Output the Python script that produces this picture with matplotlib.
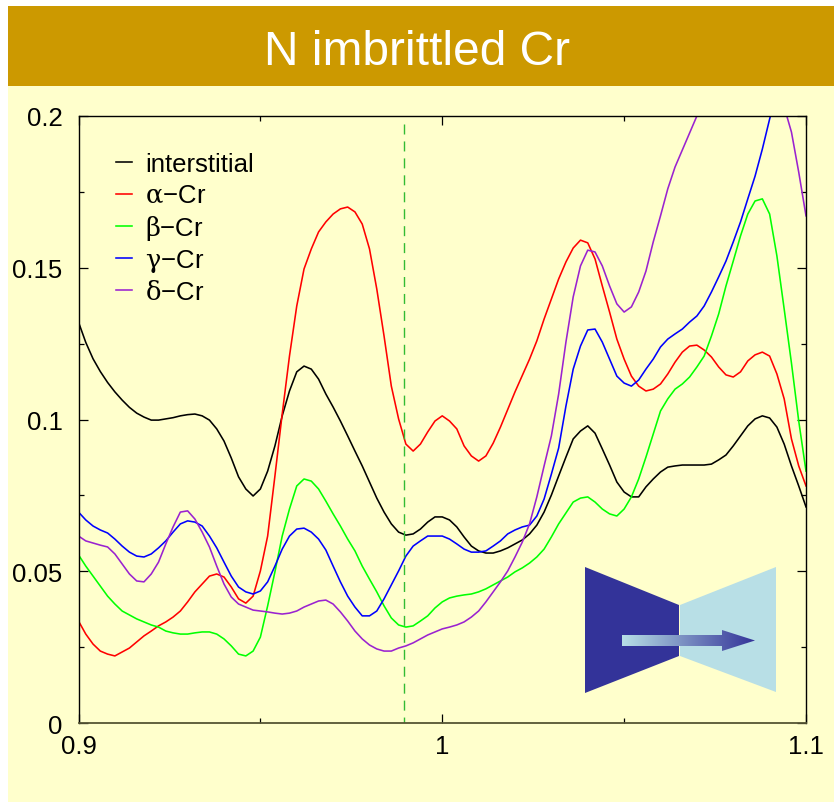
import numpy as np
import matplotlib
matplotlib.use('Agg')
import matplotlib.pyplot as plt
from matplotlib.colors import LinearSegmentedColormap
from matplotlib.patches import Polygon, Rectangle

plt.rcParams['font.family'] = ['Liberation Sans', 'DejaVu Sans']
plt.rcParams['mathtext.fontset'] = 'custom'
plt.rcParams['mathtext.rm'] = 'DejaVu Serif'
plt.rcParams['mathtext.default'] = 'rm'

x_tick_values = [0.9, 1.0, 1.1]
x_tick_labels = ['0.9', '1', '1.1']
y_tick_values = [0, 0.05, 0.1, 0.15, 0.2]
y_tick_labels = ['0', '0.05', '0.1', '0.15', '0.2']

# curves were read every 0.002
energy = np.linspace(0.9, 1.1, 101)

interstitial = [.1321, .1254, .1200, .1158, .1122, .1091, .1064, .1040, .1021, .1008,
                .0998, .0998, .1002, .1006, .1012, .1016, .1018, .1012, .0998, .0969,
                .0929, .0873, .0811, .0771, .0748, .0771, .0830, .0913, .1012, .1094,
                .1157, .1176, .1166, .1133, .1084, .1041, .0995, .0946, .0896, .0847,
                .0794, .0741, .0695, .0656, .0629, .0619, .0623, .0639, .0662, .0679,
                .0679, .0669, .0646, .0613, .0583, .0567, .0560, .0560, .0567, .0577,
                .0590, .0603, .0623, .0652, .0695, .0751, .0814, .0876, .0936, .0962,
                .0979, .0955, .0903, .0850, .0794, .0761, .0745, .0745, .0778, .0804,
                .0827, .0843, .0847, .0850, .0850, .0850, .0850, .0853, .0867, .0883,
                .0913, .0946, .0979, .1002, .1012, .1005, .0975, .0919, .0847, .0781,
                .0712]
alpha_cr = [.0336, .0293, .0260, .0237, .0227, .0221, .0234, .0247, .0267, .0287,
            .0303, .0320, .0333, .0349, .0369, .0399, .0432, .0458, .0484, .0491,
            .0481, .0448, .0409, .0395, .0418, .0501, .0616, .0814, .1018, .1209,
            .1374, .1496, .1562, .1618, .1651, .1677, .1694, .1700, .1684, .1644,
            .1562, .1430, .1275, .1110, .1002, .0919, .0896, .0919, .0959, .0995,
            .1012, .0995, .0969, .0913, .0880, .0863, .0880, .0922, .0975, .1033,
            .1091, .1145, .1199, .1259, .1331, .1397, .1463, .1519, .1565, .1591,
            .1582, .1529, .1440, .1354, .1265, .1199, .1143, .1110, .1094, .1100,
            .1117, .1150, .1189, .1222, .1242, .1245, .1229, .1206, .1173, .1147,
            .1140, .1157, .1193, .1213, .1222, .1209, .1150, .1068, .0936, .0847,
            .0781]
beta_cr = [.0554, .0517, .0484, .0451, .0418, .0392, .0369, .0356, .0343, .0333,
           .0323, .0316, .0303, .0297, .0293, .0293, .0297, .0300, .0300, .0293,
           .0277, .0254, .0227, .0221, .0237, .0283, .0386, .0498, .0616, .0705,
           .0781, .0804, .0797, .0771, .0731, .0689, .0649, .0606, .0567, .0517,
           .0474, .0432, .0386, .0346, .0323, .0316, .0320, .0336, .0353, .0379,
           .0399, .0412, .0418, .0422, .0425, .0432, .0442, .0455, .0468, .0481,
           .0498, .0511, .0527, .0547, .0573, .0613, .0656, .0692, .0728, .0741,
           .0745, .0728, .0705, .0689, .0682, .0705, .0745, .0804, .0876, .0952,
           .1028, .1068, .1100, .1117, .1140, .1173, .1209, .1275, .1348, .1440,
           .1522, .1605, .1677, .1720, .1727, .1677, .1539, .1364, .1186, .0995,
           .0830]
gamma_cr = [.0695, .0669, .0649, .0636, .0626, .0606, .0583, .0563, .0550, .0547,
            .0557, .0577, .0600, .0629, .0656, .0666, .0662, .0649, .0616, .0577,
            .0530, .0484, .0448, .0432, .0425, .0435, .0465, .0517, .0573, .0616,
            .0639, .0642, .0629, .0606, .0570, .0517, .0465, .0418, .0382, .0353,
            .0353, .0369, .0409, .0455, .0501, .0550, .0583, .0600, .0616, .0616,
            .0616, .0606, .0590, .0573, .0563, .0563, .0567, .0583, .0600, .0623,
            .0636, .0646, .0652, .0682, .0738, .0820, .0906, .1044, .1166, .1242,
            .1295, .1298, .1255, .1199, .1143, .1120, .1110, .1130, .1166, .1199,
            .1239, .1265, .1282, .1298, .1321, .1341, .1374, .1420, .1470, .1522,
            .1585, .1651, .1727, .1802, .1891, .1990, .2080, .2130, .2140, .2130,
            .2120]
delta_cr = [.0616, .0600, .0593, .0586, .0580, .0557, .0524, .0491, .0468, .0465,
            .0491, .0530, .0590, .0646, .0695, .0699, .0672, .0629, .0580, .0517,
            .0458, .0415, .0392, .0382, .0372, .0369, .0366, .0362, .0359, .0362,
            .0369, .0382, .0392, .0402, .0405, .0392, .0366, .0336, .0303, .0277,
            .0257, .0244, .0237, .0237, .0247, .0254, .0264, .0277, .0290, .0300,
            .0310, .0316, .0323, .0333, .0349, .0369, .0399, .0432, .0465, .0501,
            .0547, .0596, .0656, .0745, .0847, .0946, .1084, .1255, .1404, .1506,
            .1558, .1552, .1506, .1440, .1381, .1354, .1371, .1420, .1489, .1585,
            .1671, .1760, .1832, .1888, .1944, .2000, .2052, .2105, .2150, .2190,
            .2220, .2235, .2240, .2225, .2200, .2145, .2080, .2030, .1947, .1815,
            .1671]

fermi_x = 0.9895
fermi_top = 0.1975

series_values = [interstitial, alpha_cr, beta_cr, gamma_cr, delta_cr]
series_labels = ['interstitial', r'$\alpha$−Cr', r'$\beta$−Cr', r'$\gamma$−Cr', r'$\delta$−Cr']
series_colors = ['#000000', '#FF0000', '#00FF00', '#0000FF', '#9A22D0']

W, H = 834, 803
CREAM = '#FFFFCC'
DARK = '#333399'
LIGHT = '#B8DFE6'

fig = plt.figure(figsize=(W / 100, H / 100), dpi=100, facecolor='white')

# page furniture, in pixel coordinates
bg = fig.add_axes([0, 0, 1, 1], zorder=0)
bg.set_xlim(0, W)
bg.set_ylim(H, 0)
bg.axis('off')
bg.add_patch(Rectangle((8, 87), W - 8, H - 87, fc=CREAM, ec='none'))
bg.add_patch(Rectangle((8, 7), W - 8, 80, fc='#CC9900', ec='none'))
bg.text(417.5, 65, 'N imbrittled Cr', color='white', fontsize=34.5, ha='center', va='baseline')

left, right, top, bottom = 78.5, 806, 117, 724
ax = fig.add_axes([left / W, 1 - bottom / H, (right - left) / W, (bottom - top) / H], zorder=1)
ax.patch.set_alpha(0)

for vals, color in zip(series_values, series_colors):
    ax.plot(energy, vals, color=color, lw=1.15)
ax.plot([fermi_x, fermi_x], [fermi_top, 0], color='#33BB33', lw=1.0, dashes=(7.2, 5))

ax.set_xlim(0.9, 1.1)
ax.set_ylim(0, 0.2)
ax.set_xticks(x_tick_values, x_tick_labels)
ax.set_yticks(y_tick_values, y_tick_labels)
ax.set_xticks([0.95, 1.05], minor=True)
ax.set_yticks([0.025, 0.075, 0.125, 0.175], minor=True)
ax.tick_params(which='major', direction='in', top=True, right=True, length=6.5, width=0.9,
               labelsize=18.5)
ax.tick_params(which='minor', direction='in', top=True, right=True, length=3.5, width=0.9)
ax.tick_params(axis='y', which='major', pad=11.5)
ax.tick_params(axis='x', which='major', pad=8)
for spine in ax.spines.values():
    spine.set_linewidth(1.0)
ax.spines['bottom'].set_color('#555533')
ax.spines['bottom'].set_linewidth(1.3)

# legend by hand, rows are evenly spaced
for i, (label, color) in enumerate(zip(series_labels, series_colors)):
    line_y = 0.9245 - i * 0.0527
    ax.plot([0.0515, 0.0735], [line_y, line_y], color=color, lw=1.15, transform=ax.transAxes)
    ax.text(0.0915, line_y - 0.0145, label, fontsize=18.5, va='baseline', transform=ax.transAxes)

# bow-tie inset with the gradient arrow
over = fig.add_axes([0, 0, 1, 1], zorder=2)
over.patch.set_alpha(0)
over.axis('off')
over.add_patch(Polygon([(585, 568), (679, 606), (679, 657), (585, 694)], fc=DARK, ec='none'))
over.add_patch(Polygon([(680, 606), (776, 568), (776, 693), (680, 657)], fc=LIGHT, ec='none'))
arrow_cmap = LinearSegmentedColormap.from_list('arrow', [LIGHT, DARK])
grad = over.imshow(np.linspace(0, 1, 256)[None, :], cmap=arrow_cmap, aspect='auto',
                   extent=(622, 755, 653, 630), zorder=3)
arrow_outline = Polygon([(622, 636), (722, 636), (722, 631), (755, 641.5),
                         (722, 652), (722, 647), (622, 647)], fc='none', ec='none')
over.add_patch(arrow_outline)
grad.set_clip_path(arrow_outline)
over.set_xlim(0, W)
over.set_ylim(H, 0)

fig.savefig('out.png', dpi=100, facecolor='white')
